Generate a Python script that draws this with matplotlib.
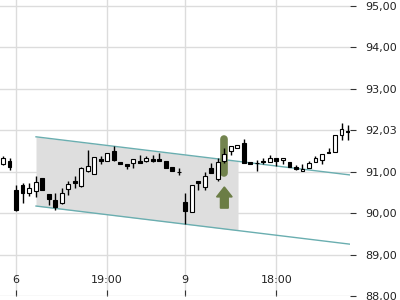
import numpy as np
import matplotlib
matplotlib.use("Agg")
import matplotlib.pyplot as plt
from matplotlib.patches import FancyArrow

# candle data (open, high, low, close), one per period
opens = [91.18, 91.26, 90.56, 90.68, 90.49, 90.53, 90.85, 90.46, 90.32, 90.24,
         90.58, 90.77, 90.65, 91.02, 90.94, 91.30, 91.26, 91.50, 91.23, 91.18,
         91.21, 91.26, 91.26, 91.30, 91.30, 91.26, 91.11, 90.99, 90.27, 90.03,
         90.77, 90.63, 91.09, 90.82, 91.26, 91.50, 91.57, 91.69, 91.23, 91.21,
         91.26, 91.23, 91.33, 91.28, 91.23, 91.11, 91.02, 91.09, 91.23, 91.28,
         91.47, 91.47, 91.88, 91.97]
highs = [91.38, 91.33, 90.68, 90.73, 90.73, 90.90, 90.85, 90.46, 90.49, 90.61,
         90.77, 90.90, 91.11, 91.52, 91.35, 91.38, 91.45, 91.62, 91.23, 91.18,
         91.30, 91.40, 91.38, 91.40, 91.45, 91.26, 91.11, 91.09, 90.49, 90.68,
         90.77, 90.99, 91.21, 91.33, 91.57, 91.62, 91.64, 91.79, 91.23, 91.28,
         91.33, 91.40, 91.33, 91.33, 91.23, 91.16, 91.18, 91.26, 91.38, 91.43,
         91.57, 91.88, 92.17, 92.12]
lows = [91.16, 91.04, 90.05, 90.24, 90.41, 90.39, 90.56, 90.20, 90.07, 90.22,
        90.44, 90.61, 90.63, 90.99, 90.94, 91.18, 91.26, 91.26, 91.18, 91.06,
        91.09, 91.21, 91.23, 91.23, 91.26, 91.09, 91.02, 90.92, 89.74, 90.03,
        90.56, 90.56, 90.97, 90.77, 91.21, 91.40, 91.57, 91.21, 91.18, 91.02,
        91.18, 91.23, 91.14, 91.18, 91.11, 91.04, 91.02, 91.09, 91.23, 91.18,
        91.45, 91.47, 91.76, 91.76]
closes = [91.33, 91.11, 90.07, 90.49, 90.61, 90.75, 90.56, 90.34, 90.15, 90.49,
          90.70, 90.73, 91.09, 91.14, 91.35, 91.26, 91.45, 91.28, 91.18, 91.14,
          91.30, 91.21, 91.33, 91.26, 91.26, 91.09, 91.02, 90.98, 90.05, 90.68,
          90.73, 90.90, 90.97, 91.23, 91.43, 91.62, 91.64, 91.21, 91.18, 91.20,
          91.23, 91.33, 91.26, 91.33, 91.11, 91.06, 91.06, 91.21, 91.33, 91.43,
          91.45, 91.88, 92.03, 91.96]

x_tick_pos = [2, 16, 28, 42]
x_tick_labels = ["6", "19:00", "9", "18:00"]
y_ticks = [88, 89, 90, 91, 92, 93, 94, 95]
y_tick_labels = ["88,00", "89,00", "90,00", "91,00", "92,03", "93,00", "94,00", "95,00"]

# trend channel (start / end points)
chan_x = [5.07, 53.3]
chan_upper = [91.84, 90.92]
chan_lower = [90.17, 89.25]
shade_end = 36.1

# signal marker
signal_x = 34
signal_top, signal_bottom = 91.84, 90.92
arrow_base, arrow_tip = 90.12, 90.63

fig = plt.figure(figsize=(4, 3), dpi=100)
ax = fig.add_axes([0, 4 / 300, 350 / 400, 296 / 300])
ax.set_xlim(-0.46, 53.3)
ax.set_ylim(88, 95.14)

ax.grid(True, color="#dcdcdc", linewidth=1)
ax.set_axisbelow(True)
for s in ax.spines.values():
    s.set_visible(False)

# channel
xs = np.array(chan_x)
up = np.array(chan_upper)
lo = np.array(chan_lower)
xf = np.linspace(chan_x[0], shade_end, 50)
ax.fill_between(xf, np.interp(xf, xs, up), np.interp(xf, xs, lo),
                color="#dedede", zorder=1, linewidth=0)
ax.plot(xs, up, color="#6aaeb0", lw=1, zorder=2)
ax.plot(xs, lo, color="#6aaeb0", lw=1, zorder=2)

# signal pill + arrow
ax.plot([signal_x, signal_x], [signal_top - 0.05, signal_bottom + 0.05],
        color="#6b7d45", lw=5.5, solid_capstyle="round", alpha=0.95, zorder=3)
ax.add_patch(FancyArrow(signal_x, arrow_base, 0, arrow_tip - arrow_base,
                        width=1.2, head_width=2.4, head_length=0.24,
                        length_includes_head=True, color="#6b7d45", zorder=3))

# candles
x = np.arange(len(opens))
o = np.array(opens)
c = np.array(closes)
ax.vlines(x, lows, highs, color="black", lw=1, zorder=4)
bottom = np.minimum(o, c)
height = np.maximum(np.abs(c - o), 0.02)
colors = ["white" if cc >= oo else "black" for oo, cc in zip(o, c)]
ax.bar(x, height, bottom=bottom, width=0.6, color=colors,
       edgecolor="black", linewidth=0.8, zorder=5)

ax.set_xticks(x_tick_pos)
ax.set_xticklabels(x_tick_labels)
ax.tick_params(axis="x", direction="in", length=4, pad=-15, labelsize=8,
               color="#333333", labelcolor="#222222")
ax.yaxis.tick_right()
ax.set_yticks(y_ticks)
ax.set_yticklabels(y_tick_labels)
ax.tick_params(axis="y", direction="out", length=4, pad=7, labelsize=8,
               color="#333333", labelcolor="#222222")

fig.savefig("out.png", dpi=100)
